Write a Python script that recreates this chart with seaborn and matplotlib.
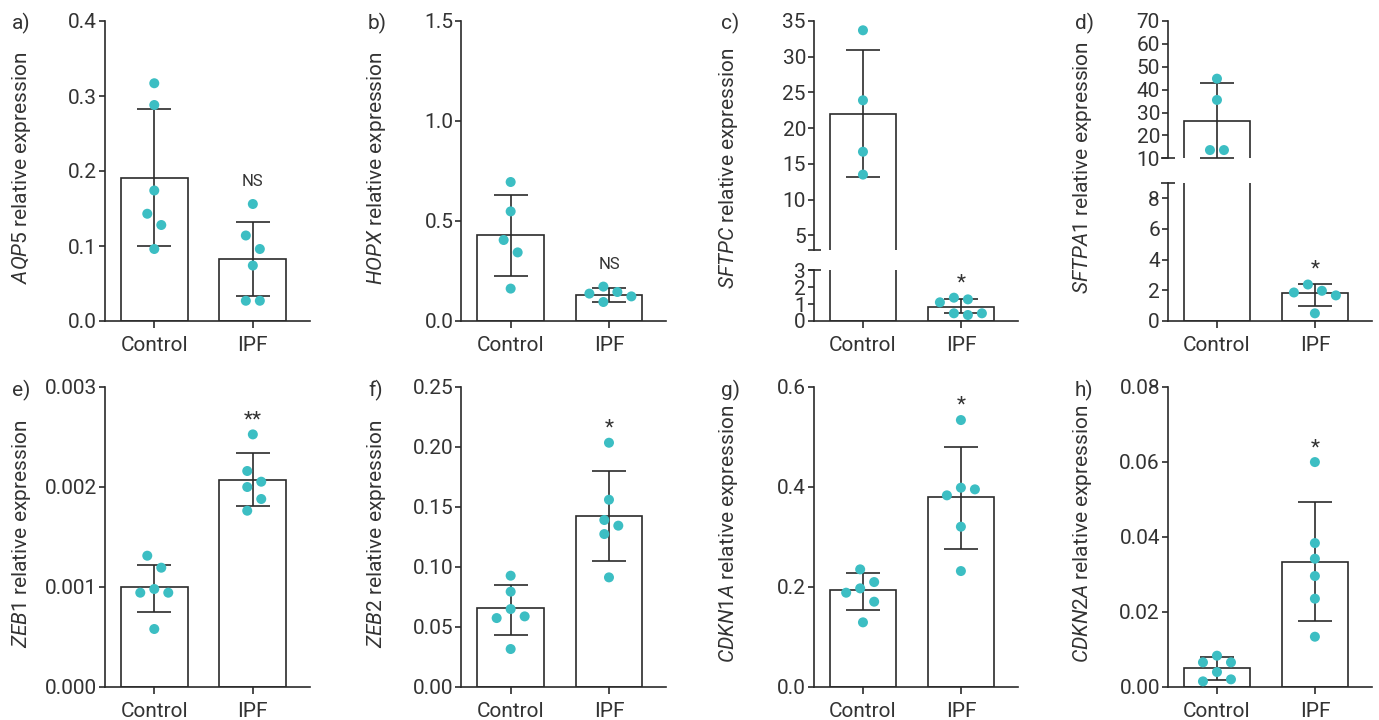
import numpy as np
import pandas as pd
import matplotlib
matplotlib.use("Agg")
import matplotlib.pyplot as plt
import matplotlib.transforms as mtransforms
import seaborn as sns

# ---------------- data ----------------
categories = ["Control", "IPF"]

aqp5_control = [0.317, 0.288, 0.174, 0.143, 0.128, 0.096]
aqp5_ipf = [0.156, 0.114, 0.096, 0.074, 0.027, 0.027]
aqp5_mean = [0.191, 0.083]
aqp5_lo = [0.100, 0.034]
aqp5_hi = [0.283, 0.132]

hopx_control = [0.695, 0.548, 0.405, 0.343, 0.162]
hopx_ipf = [0.137, 0.095, 0.172, 0.123, 0.145]
hopx_mean = [0.428, 0.130]
hopx_lo = [0.225, 0.095]
hopx_hi = [0.632, 0.163]

sftpc_control = [33.7, 23.9, 16.7, 13.5]
sftpc_ipf = [1.38, 1.105, 1.28, 0.455, 0.355, 0.455]
sftpc_mean = [22.0, 0.846]
sftpc_lo = [13.2, 0.455]
sftpc_hi = [31.0, 1.30]

sftpa1_control = [44.8, 35.5, 13.6, 13.6]
sftpa1_ipf = [2.38, 1.86, 1.67, 1.97, 0.50]
sftpa1_mean = [26.2, 1.84]
sftpa1_lo = [10.0, 0.95]
sftpa1_hi = [43.1, 2.42]

zeb1_control = [0.00131, 0.00119, 0.000977, 0.00094, 0.00094, 0.000577]
zeb1_ipf = [0.002523, 0.002157, 0.00205, 0.001997, 0.001877, 0.00176]
zeb1_mean = [0.00100, 0.002067]
zeb1_lo = [0.000747, 0.001807]
zeb1_hi = [0.001217, 0.002333]

zeb2_control = [0.0925, 0.0792, 0.0647, 0.0586, 0.0572, 0.0314]
zeb2_ipf = [0.2033, 0.1558, 0.1389, 0.1342, 0.1272, 0.0911]
zeb2_mean = [0.0653, 0.1419]
zeb2_lo = [0.0433, 0.105]
zeb2_hi = [0.085, 0.1797]

cdkn1a_control = [0.2347, 0.2093, 0.1967, 0.188, 0.170, 0.1287]
cdkn1a_ipf = [0.5333, 0.398, 0.3947, 0.3827, 0.320, 0.2313]
cdkn1a_mean = [0.1933, 0.3787]
cdkn1a_lo = [0.1533, 0.276]
cdkn1a_hi = [0.228, 0.4793]

cdkn2a_control = [0.00827, 0.00649, 0.00649, 0.00391, 0.00196, 0.00142]
cdkn2a_ipf = [0.0599, 0.0383, 0.03413, 0.02951, 0.02347, 0.01333]
cdkn2a_mean = [0.00489, 0.03324]
cdkn2a_lo = [0.00178, 0.0176]
cdkn2a_hi = [0.00791, 0.04924]

genes = ["AQP5", "HOPX", "SFTPC", "SFTPA1", "ZEB1", "ZEB2", "CDKN1A", "CDKN2A"]
panel_letters = ["a)", "b)", "c)", "d)", "e)", "f)", "g)", "h)"]
significance = ["NS", "NS", "*", "*", "**", "*", "*", "*"]

# ---------------- style ----------------
sns.set_theme(style="ticks")
plt.rcParams["font.family"] = ["Roboto", "DejaVu Sans"]
plt.rcParams["mathtext.fontset"] = "custom"
plt.rcParams["mathtext.rm"] = "Roboto"
plt.rcParams["mathtext.it"] = "Roboto:italic"
plt.rcParams["mathtext.bf"] = "Roboto:bold"

W, H = 1379, 720
fig = plt.figure(figsize=(W / 100, H / 100), dpi=100)
fig.patch.set_facecolor("white")

DARK = "#2b2b2b"
TEXT = "#333333"
TEAL = "#3cbec3"
LW = 1.2
FS = 15
XLIM = (-0.5, 1.58)
DOT_PX = 14.0


def add_ax(rect):
    left, top, right, bottom = rect
    return fig.add_axes([left / W, 1 - bottom / H, (right - left) / W, (bottom - top) / H])


def swarm(ypx, d=DOT_PX):
    ypx = np.asarray(ypx, float)
    n = len(ypx)
    offs = np.zeros(n)
    order = np.argsort(-ypx, kind="stable")
    placed = []
    for i in order:
        c = 0.0
        for k in [0, 1, -1, 2, -2, 3, -3, 4, -4]:
            c = k * d
            if all(np.hypot(c - offs[j], ypx[i] - ypx[j]) >= d - 1e-6 for j in placed):
                break
        offs[i] = c
        placed.append(i)
    srt = np.argsort(ypx, kind="stable")
    groups = [[srt[0]]]
    for a, b in zip(srt[:-1], srt[1:]):
        if abs(ypx[b] - ypx[a]) < d:
            groups[-1].append(b)
        else:
            groups.append([b])
    for g in groups:
        if len(g) > 1:
            offs[g] -= offs[g].mean()
    return offs


def draw(ax, rect, ctrl, ipf, mean, lo, hi, ylim, ticks, labels, xaxis=True):
    pos = np.arange(len(categories))
    sns.barplot(x=pos, y=mean, native_scale=True, ax=ax, color="white",
                saturation=1, edgecolor=DARK, linewidth=LW, width=0.68,
                errorbar=None, zorder=1)
    m = np.asarray(mean, float)
    lo = np.asarray(lo, float)
    hi = np.asarray(hi, float)
    for i in pos:
        eb = ax.errorbar([i], [m[i]], yerr=[[m[i] - lo[i]], [hi[i] - m[i]]],
                         fmt="none", ecolor=DARK, elinewidth=LW, capsize=12.5,
                         capthick=LW, zorder=2)
        inside = lo[i] >= ylim[0] - 1e-9 and hi[i] <= ylim[1] + 1e-9
        for art in eb.get_children():
            art.set_clip_on(not inside)
    ax.set_xlim(*XLIM)
    ax.set_ylim(*ylim)
    ax_w = rect[2] - rect[0]
    ax_h = rect[3] - rect[1]
    ppx = ax_w / (XLIM[1] - XLIM[0])
    ppy = ax_h / (ylim[1] - ylim[0])
    for i, vals in enumerate([ctrl, ipf]):
        v = np.asarray(vals, float)
        offs = swarm(v * ppy)
        sns.scatterplot(x=i + offs / ppx, y=v, ax=ax, color=TEAL, s=52,
                        edgecolor="none", linewidth=0, zorder=3, legend=False)
    ax.set_yticks(ticks)
    ax.set_yticklabels(labels)
    ax.set_xlabel("")
    ax.set_ylabel("")
    ax.set_facecolor("none")
    for s in ["top", "right"]:
        ax.spines[s].set_visible(False)
    for s in ["left", "bottom"]:
        ax.spines[s].set_color(DARK)
        ax.spines[s].set_linewidth(LW)
    ax.tick_params(axis="y", length=4.3, width=LW, color=DARK, labelsize=FS,
                   labelcolor=TEXT, pad=1.5)
    if xaxis:
        ax.set_xticks(pos)
        ax.set_xticklabels(categories)
        ax.tick_params(axis="x", length=5, width=LW, color=DARK, labelsize=FS,
                       labelcolor=TEXT, pad=6)
    else:
        ax.spines["bottom"].set_visible(False)
        ax.tick_params(axis="x", bottom=False, labelbottom=False)


def cap(ax, yval, half_px, ax_w):
    tr = mtransforms.blended_transform_factory(ax.transAxes, ax.transData)
    h = half_px / ax_w
    ax.plot([-h, h], [yval, yval], transform=tr, color=DARK, lw=LW,
            clip_on=False, solid_capstyle="butt", zorder=5)


def annotate(ax, txt, top):
    if txt == "NS":
        ax.annotate(txt, xy=(1, top), xytext=(0, 13), textcoords="offset points",
                    ha="center", va="baseline", fontsize=12, color=TEXT,
                    annotation_clip=False)
    else:
        ax.annotate(txt, xy=(1, top), xytext=(0, 6.5), textcoords="offset points",
                    ha="center", va="baseline", fontsize=FS, color=TEXT,
                    annotation_clip=False)


cols = [(105, 310), (461.5, 666), (814, 1017.7), (1168, 1371.7)]
rows = [(21, 321), (386.7, 686.7)]


def rect_of(c, r, top=None, bottom=None):
    t = rows[r][0] if top is None else top
    b = rows[r][1] if bottom is None else bottom
    return (cols[c][0], t, cols[c][1], b)


def fmt(vals, f):
    return [f.format(v) for v in vals]


# a) AQP5
r = rect_of(0, 0)
ax = add_ax(r)
t = [0, 0.1, 0.2, 0.3, 0.4]
draw(ax, r, aqp5_control, aqp5_ipf, aqp5_mean, aqp5_lo, aqp5_hi, (0, 0.4), t, fmt(t, "{:.1f}"))
annotate(ax, significance[0], max(max(aqp5_ipf), aqp5_hi[1]))

# b) HOPX
r = rect_of(1, 0)
ax = add_ax(r)
t = [0, 0.5, 1.0, 1.5]
draw(ax, r, hopx_control, hopx_ipf, hopx_mean, hopx_lo, hopx_hi, (0, 1.5), t, fmt(t, "{:.1f}"))
annotate(ax, significance[1], max(max(hopx_ipf), hopx_hi[1]))

# c) SFTPC (broken axis)
ru = rect_of(2, 0, bottom=249.6)
axu = add_ax(ru)
t = [5, 10, 15, 20, 25, 30, 35]
draw(axu, ru, sftpc_control, sftpc_ipf, sftpc_mean, sftpc_lo, sftpc_hi, (3, 35), t,
     fmt(t, "{:d}"), xaxis=False)
cap(axu, 3, 6.5, ru[2] - ru[0])
rl = rect_of(2, 0, top=270.3)
axl = add_ax(rl)
t = [0, 1, 2, 3]
draw(axl, rl, sftpc_control, sftpc_ipf, sftpc_mean, sftpc_lo, sftpc_hi, (0, 3), t, fmt(t, "{:d}"))
cap(axl, 3, 6.5, rl[2] - rl[0])
annotate(axl, significance[2], max(max(sftpc_ipf), sftpc_hi[1]))

# d) SFTPA1 (broken axis)
ru = rect_of(3, 0, bottom=158.3)
axu = add_ax(ru)
t = [10, 20, 30, 40, 50, 60, 70]
draw(axu, ru, sftpa1_control, sftpa1_ipf, sftpa1_mean, sftpa1_lo, sftpa1_hi, (10, 70), t,
     fmt(t, "{:d}"), xaxis=False)
cap(axu, 10, 7, ru[2] - ru[0])
rl = rect_of(3, 0, top=183)
axl = add_ax(rl)
t = [0, 2, 4, 6, 8]
draw(axl, rl, sftpa1_control, sftpa1_ipf, sftpa1_mean, sftpa1_lo, sftpa1_hi, (0, 9), t, fmt(t, "{:d}"))
cap(axl, 9, 7, rl[2] - rl[0])
annotate(axl, significance[3], max(max(sftpa1_ipf), sftpa1_hi[1]))

# e) ZEB1
r = rect_of(0, 1)
ax = add_ax(r)
t = [0, 0.001, 0.002, 0.003]
draw(ax, r, zeb1_control, zeb1_ipf, zeb1_mean, zeb1_lo, zeb1_hi, (0, 0.003), t, fmt(t, "{:.3f}"))
annotate(ax, significance[4], max(max(zeb1_ipf), zeb1_hi[1]))

# f) ZEB2
r = rect_of(1, 1)
ax = add_ax(r)
t = [0, 0.05, 0.10, 0.15, 0.20, 0.25]
draw(ax, r, zeb2_control, zeb2_ipf, zeb2_mean, zeb2_lo, zeb2_hi, (0, 0.25), t, fmt(t, "{:.2f}"))
annotate(ax, significance[5], max(max(zeb2_ipf), zeb2_hi[1]))

# g) CDKN1A
r = rect_of(2, 1)
ax = add_ax(r)
t = [0, 0.2, 0.4, 0.6]
draw(ax, r, cdkn1a_control, cdkn1a_ipf, cdkn1a_mean, cdkn1a_lo, cdkn1a_hi, (0, 0.6), t, fmt(t, "{:.1f}"))
annotate(ax, significance[6], max(max(cdkn1a_ipf), cdkn1a_hi[1]))

# h) CDKN2A
r = rect_of(3, 1)
ax = add_ax(r)
t = [0, 0.02, 0.04, 0.06, 0.08]
draw(ax, r, cdkn2a_control, cdkn2a_ipf, cdkn2a_mean, cdkn2a_lo, cdkn2a_hi, (0, 0.08), t, fmt(t, "{:.2f}"))
annotate(ax, significance[7], max(max(cdkn2a_ipf), cdkn2a_hi[1]))

# y labels and panel letters
label_x = [22, 377, 728, 1082]
letter_x = [12, 368, 721, 1075]
letter_base = [29, 396]
for k, gene in enumerate(genes):
    c, rr = k % 4, k // 4
    yc = (rows[rr][0] + rows[rr][1]) / 2 - 3
    fig.text(label_x[c] / W, 1 - yc / H, r"$\mathit{" + gene + "}$ relative expression",
             rotation=90, ha="center", va="center", fontsize=FS, color=TEXT)
    fig.text(letter_x[c] / W, 1 - letter_base[rr] / H, panel_letters[k],
             ha="left", va="baseline", fontsize=FS, color=TEXT)

fig.savefig("out.png", dpi=100, facecolor="white")
